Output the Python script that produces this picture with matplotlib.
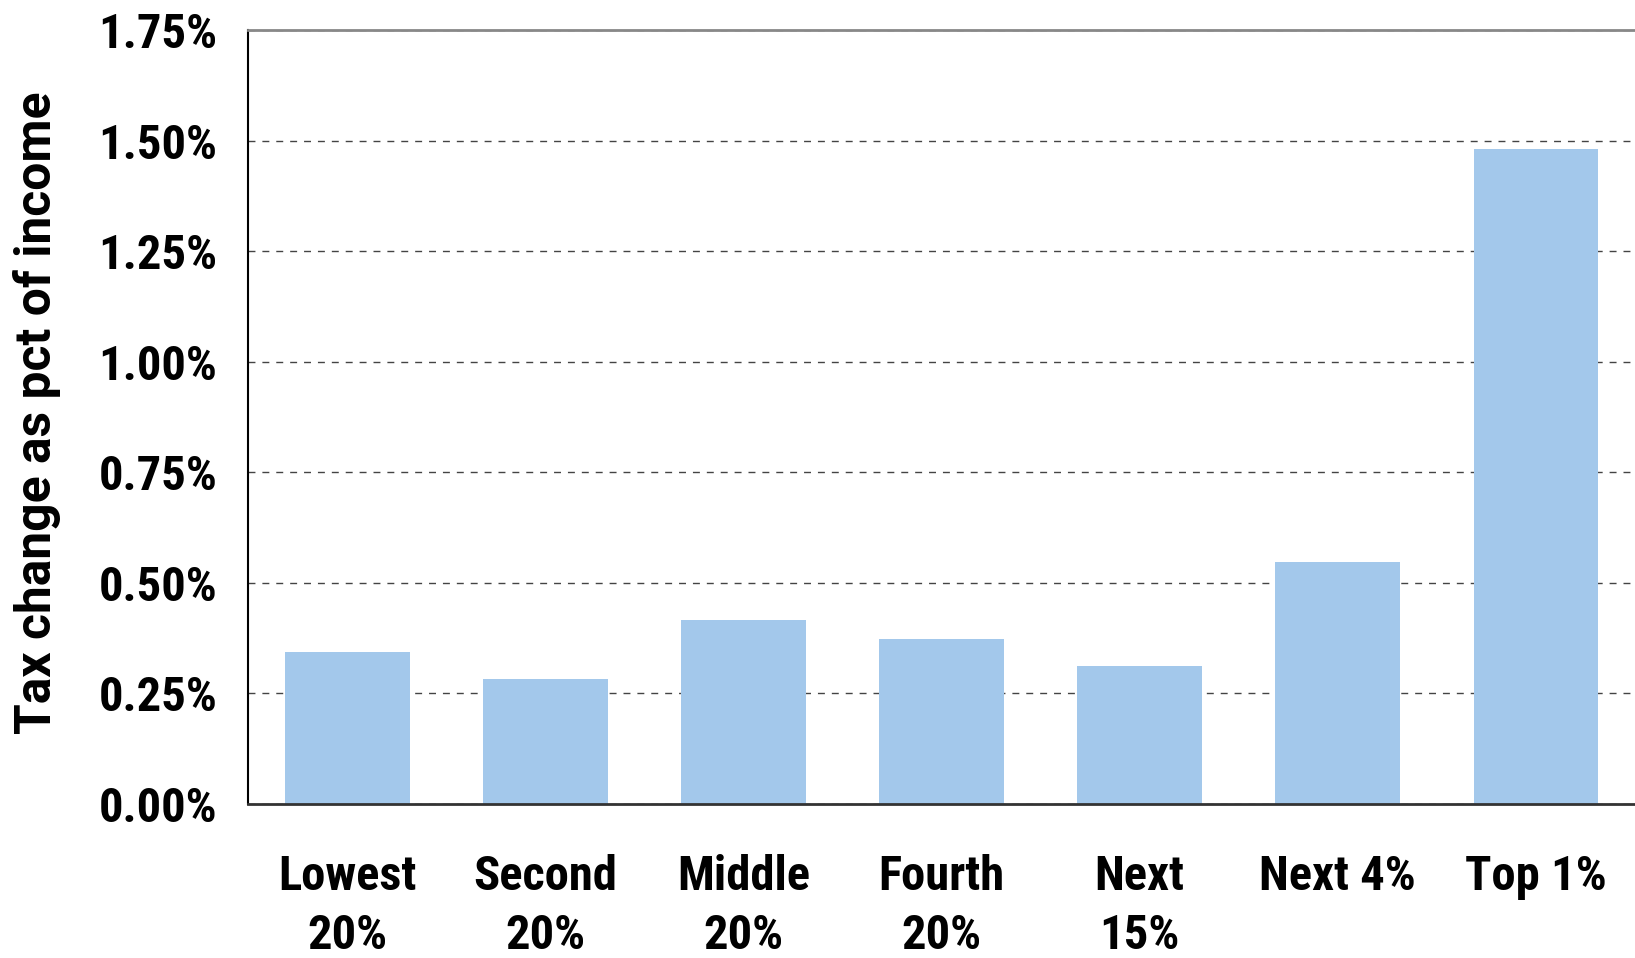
import matplotlib.pyplot as plt
from matplotlib.ticker import FuncFormatter

# income groups and the tax change as share of income
groups = ['Lowest\n20%', 'Second\n20%', 'Middle\n20%', 'Fourth\n20%',
          'Next\n15%', 'Next 4%', 'Top 1%']
tax_change = [0.344, 0.283, 0.415, 0.373, 0.311, 0.547, 1.481]
y_ticks = [0.0, 0.25, 0.5, 0.75, 1.0, 1.25, 1.5, 1.75]

bar_color = '#a3c8eb'
narrow = ['Roboto Condensed', 'Roboto', 'DejaVu Sans']

fig = plt.figure(figsize=(16.35, 9.58), dpi=100)
ax = fig.add_axes([0.1517, 0.1608, 0.8483, 0.8079])

ax.bar(range(len(groups)), tax_change, width=0.63, color=bar_color, zorder=2)

ax.set_xlim(-0.5, len(groups) - 0.5)
ax.set_ylim(0, 1.75)
ax.set_yticks(y_ticks)
ax.yaxis.set_major_formatter(FuncFormatter(lambda v, p: f'{v:.2f}%'))
ax.set_xticks(range(len(groups)))
ax.set_xticklabels(groups, linespacing=1.35)

ax.grid(axis='y', linestyle=(0, (5, 5)), color='#444444', linewidth=1, zorder=1)
ax.set_axisbelow(True)
ax.tick_params(axis='both', length=0)
ax.tick_params(axis='y', pad=22)
ax.tick_params(axis='x', pad=36)
for lab in ax.get_xticklabels() + ax.get_yticklabels():
    lab.set_fontfamily(narrow)
    lab.set_fontweight('bold')
    lab.set_fontsize(35)

ax.spines['right'].set_visible(False)
ax.spines['top'].set_color('#888888')
ax.spines['top'].set_linewidth(2)
ax.spines['left'].set_color('black')
ax.spines['left'].set_linewidth(1.5)
ax.spines['bottom'].set_color('#333333')
ax.spines['bottom'].set_linewidth(2)

fig.text(0.0226, 0.569, 'Tax change as pct of income', rotation=90,
         ha='center', va='center', fontsize=35.8, fontweight='bold',
         family=['Roboto', 'DejaVu Sans'])

fig.savefig('out.png', dpi=100)
